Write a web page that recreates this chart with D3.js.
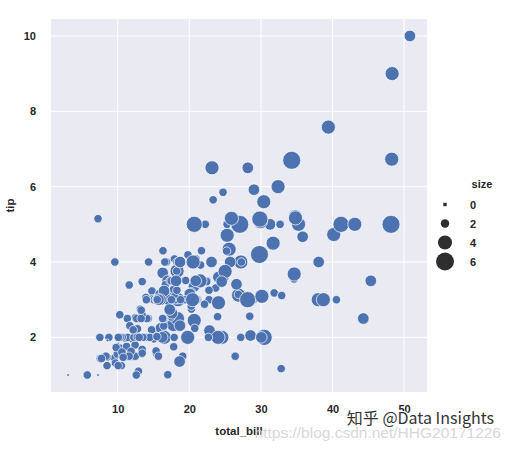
<!DOCTYPE html>
<html><head><meta charset="utf-8">
<script src="https://cdn.jsdelivr.net/npm/d3@7"></script>
<style>body{margin:0;background:#fff}svg{display:block}</style>
</head><body>
<script>
const totalBill=[16.99,10.34,21.01,23.68,24.59,25.29,8.77,26.88,15.04,14.78,10.27,35.26,15.42,18.43,14.83,21.58,10.33,16.29,16.97,20.65,17.92,20.29,15.77,39.42,19.82,17.81,13.37,12.69,21.70,19.65,9.55,18.35,15.06,20.69,17.78,24.06,16.31,16.93,18.69,31.27,16.04,17.46,13.94,9.68,30.40,18.29,22.23,32.40,28.55,18.04,12.54,10.29,34.81,9.94,25.56,19.49,38.01,26.41,11.24,48.27,20.29,13.81,11.02,18.29,17.59,20.08,16.45,3.07,20.23,15.01,12.02,17.07,26.86,25.28,14.73,10.51,17.92,27.20,22.76,17.29,19.44,16.66,10.07,32.68,15.98,34.83,13.03,18.28,24.71,21.16,28.97,22.49,5.75,16.32,22.75,40.17,27.28,12.03,21.01,12.46,11.35,15.38,44.30,22.42,20.92,15.36,20.49,25.21,18.24,14.31,14.00,7.25,38.07,23.95,25.71,17.31,29.93,10.65,12.43,24.08,11.69,13.42,14.26,15.95,12.48,29.80,8.52,14.52,11.38,22.82,19.08,20.27,11.17,12.26,18.26,8.51,10.33,14.15,16.00,13.16,17.47,34.30,41.19,27.05,16.43,8.35,18.64,11.87,9.78,7.51,14.07,13.13,17.26,24.55,19.77,29.85,48.17,25.00,13.39,16.49,21.50,12.66,16.21,13.81,17.51,24.52,20.76,31.71,10.59,10.63,50.81,15.81,7.25,31.85,16.82,32.90,17.89,14.48,9.60,34.63,34.65,23.33,45.35,23.17,40.55,20.69,20.90,30.46,18.15,23.10,15.69,19.81,28.44,15.48,16.58,7.56,10.34,43.11,13.00,13.51,18.71,12.74,13.00,16.40,20.53,16.47,26.59,38.73,24.27,12.76,30.06,25.89,48.33,13.27,28.17,12.90,28.15,11.59,7.74,30.14,12.16,13.42,8.58,15.98,13.42,16.27,10.09,20.45,13.28,22.12,24.01,15.69,11.61,10.77,15.53,10.07,12.60,32.83,35.83,29.03,27.18,22.67,17.82,18.78];
const tip=[1.01,1.66,3.50,3.31,3.61,4.71,2.00,3.12,1.96,3.23,1.71,5.00,1.57,3.00,3.02,3.92,1.67,3.71,3.50,3.35,4.08,2.75,2.23,7.58,3.18,2.34,2.00,2.00,4.30,3.00,1.45,2.50,3.00,2.45,3.27,3.60,2.00,3.07,2.31,5.00,2.24,2.54,3.06,1.32,5.60,3.00,5.00,6.00,2.05,3.00,2.50,2.60,5.20,1.56,4.34,3.51,3.00,1.50,1.76,6.73,3.21,2.00,1.98,3.76,2.64,3.15,2.47,1.00,2.01,2.09,1.97,3.00,3.14,5.00,2.20,1.25,3.08,4.00,3.00,2.71,3.00,3.40,1.83,5.00,2.03,5.17,2.00,4.00,5.85,3.00,3.00,3.50,1.00,4.30,3.25,4.73,4.00,1.50,3.00,1.50,2.50,3.00,2.50,3.48,4.08,1.64,4.06,4.29,3.76,4.00,3.00,1.00,4.00,2.55,4.00,3.50,5.07,1.50,1.80,2.92,2.31,1.68,2.50,2.00,2.52,4.20,1.48,2.00,2.00,2.18,1.50,2.83,1.50,2.00,3.25,1.25,2.00,2.00,2.00,2.75,3.50,6.70,5.00,5.00,2.30,1.50,1.36,1.63,1.73,2.00,2.50,2.00,2.74,2.00,2.00,5.14,5.00,3.75,2.61,2.00,3.50,2.50,2.00,2.00,3.00,3.48,2.24,4.50,1.61,2.00,10.00,3.16,5.15,3.18,4.00,3.11,2.00,2.00,4.00,3.55,3.68,5.65,3.50,6.50,3.00,5.00,3.50,2.00,3.50,4.00,1.50,4.19,2.56,2.02,4.00,1.44,2.00,5.00,2.00,2.00,4.00,2.01,2.00,2.50,4.00,3.23,3.41,3.00,2.03,2.23,2.00,5.16,9.00,2.50,6.50,1.10,3.00,1.50,1.44,3.09,2.20,3.48,1.92,3.00,1.58,2.50,2.00,3.00,2.72,2.88,2.00,3.00,3.39,1.47,3.00,1.25,1.00,1.17,4.67,5.92,2.00,2.00,1.75,3.00];
const partySize=[2,3,3,2,4,4,2,4,2,2,2,4,2,4,2,2,3,3,3,3,2,2,2,4,2,4,2,2,2,2,2,4,2,4,2,3,3,3,3,3,3,2,2,2,4,2,2,4,3,2,2,2,4,2,4,2,4,2,2,4,2,2,2,4,3,3,2,1,2,2,2,3,2,2,2,2,2,4,2,2,2,2,1,2,2,4,2,2,2,2,2,2,2,2,2,4,2,2,2,2,2,2,3,2,2,2,2,2,2,2,2,1,3,2,3,2,4,2,2,4,2,2,2,2,2,6,2,2,2,3,2,2,2,2,2,2,2,2,2,2,2,6,5,6,2,2,3,2,2,2,2,2,3,4,4,5,6,4,2,4,4,2,3,2,2,3,2,4,2,2,3,2,2,2,2,2,2,2,2,2,4,2,3,4,2,5,3,5,3,3,2,2,2,2,2,2,2,4,2,2,3,2,2,2,4,3,3,4,2,2,3,4,4,2,3,2,5,2,2,4,2,2,1,3,2,2,2,4,2,2,4,3,2,2,2,2,2,2,3,3,2,2,2,2];
const xTicks=[10,20,30,40,50];
const yTicks=[2,4,6,8,10];
const legendSizes=[0,2,4,6];

const W=510,H=452;
const L=51,R=427,T=19,B=392;
const font='"Liberation Sans", Arial, sans-serif';
const svg=d3.select('body').append('svg').attr('width',W).attr('height',H);

const xMin=d3.min(totalBill),xMax=d3.max(totalBill),xPad=(xMax-xMin)*0.05;
const yMin=d3.min(tip),yMax=d3.max(tip),yPad=(yMax-yMin)*0.05;
const x=d3.scaleLinear().domain([xMin-xPad,xMax+xPad]).range([L,R]);
const y=d3.scaleLinear().domain([yMin-yPad,yMax+yPad]).range([B,T]);
const area=d3.scaleLinear().domain([1,6]).range([8,324]);
const rad=s=>Math.max(1.5,Math.sqrt(Math.max(0,area(s))))/2;

svg.append('rect').attr('x',L).attr('y',T).attr('width',R-L).attr('height',B-T).attr('fill','#eaeaf2');
const g=svg.append('g');
g.selectAll('.gx').data(xTicks).join('line').attr('x1',d=>x(d)).attr('x2',d=>x(d)).attr('y1',T).attr('y2',B).attr('stroke','#fff').attr('stroke-width',1);
g.selectAll('.gy').data(yTicks).join('line').attr('y1',d=>y(d)).attr('y2',d=>y(d)).attr('x1',L).attr('x2',R).attr('stroke','#fff').attr('stroke-width',1);

const xAxis=svg.append('g').attr('transform',`translate(0,${B})`).call(d3.axisBottom(x).tickValues(xTicks).tickSize(0).tickPadding(13));
const yAxis=svg.append('g').attr('transform',`translate(${L},0)`).call(d3.axisLeft(y).tickValues(yTicks).tickSize(0).tickPadding(15));
[xAxis,yAxis].forEach(a=>{a.select('.domain').remove();a.selectAll('text').attr('font-family',font).attr('font-size',11).attr('font-weight','bold').attr('fill','#262626');});

const pts=totalBill.map((v,i)=>({x:v,y:tip[i],s:partySize[i]}));
svg.append('g').selectAll('circle').data(pts).join('circle')
 .attr('cx',d=>x(d.x)).attr('cy',d=>y(d.y)).attr('r',d=>rad(d.s))
 .attr('fill','#4c72b0').attr('stroke','#fff').attr('stroke-width',0.7);

svg.append('text').attr('x',(L+R)/2).attr('y',435).attr('text-anchor','middle').attr('font-family',font).attr('font-size',11.5).attr('font-weight','bold').attr('fill','#262626').text('total_bill');
svg.append('text').attr('transform',`translate(14,${(T+B)/2}) rotate(-90)`).attr('text-anchor','middle').attr('font-family',font).attr('font-size',11.5).attr('font-weight','bold').attr('fill','#262626').text('tip');

// legend
const lg=svg.append('g');
lg.append('text').attr('x',482).attr('y',188).attr('text-anchor','middle').attr('font-family',font).attr('font-size',11).attr('font-weight','bold').attr('fill','#262626').text('size');
const rowY=d3.scaleLinear().domain([0,6]).range([204.5,261.5]);
legendSizes.forEach(s=>{
  if(s===0){
    lg.append('rect').attr('x',443.3).attr('y',rowY(s)-1.7).attr('width',3.4).attr('height',3.4).attr('fill','#2e2e2e');
  } else {
    lg.append('circle').attr('cx',445).attr('cy',rowY(s)).attr('r',rad(s)).attr('fill','#2e2e2e');
  }
  lg.append('text').attr('x',470).attr('y',rowY(s)+4).attr('font-family',font).attr('font-size',11).attr('font-weight','bold').attr('fill','#262626').text(s);
});

// watermarks
svg.append('text').attr('x',501).attr('y',438).attr('text-anchor','end').attr('font-family',font).attr('font-size',15.5).attr('fill','#d4d4d4').attr('opacity',0.9).text('https://blog.csdn.net/HHG20171226');
svg.append('text').attr('x',494).attr('y',424).attr('text-anchor','end').attr('font-family','"Noto Sans CJK SC", "Liberation Sans", sans-serif').attr('font-size',16).attr('fill','#333').attr('stroke','#fff').attr('stroke-width',2.5).attr('paint-order','stroke').text('知乎 @Data Insights');
</script>
</body></html>
